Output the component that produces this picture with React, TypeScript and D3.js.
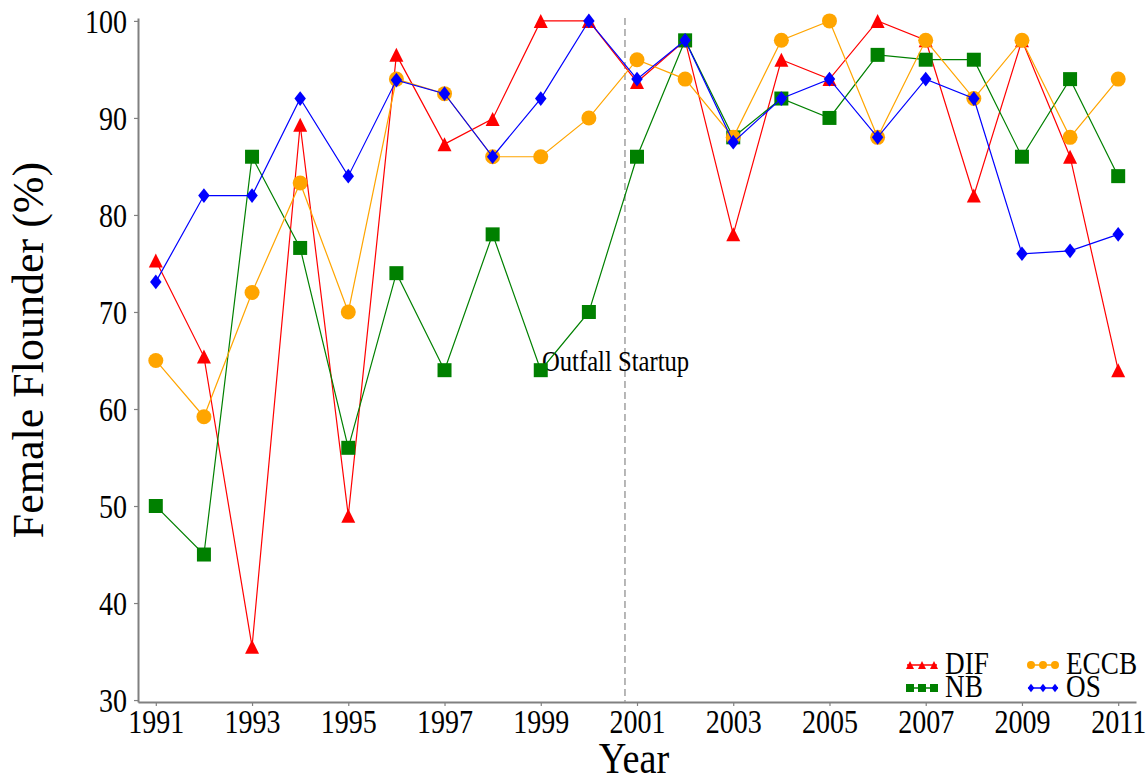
import React, { useEffect, useRef } from 'react';
import * as d3 from 'd3';

const years = d3.range(1991, 2012);
const yearTicks = [1991, 1993, 1995, 1997, 1999, 2001, 2003, 2005, 2007, 2009, 2011];
const pctTicks = [30, 40, 50, 60, 70, 80, 90, 100];

const difValues = [75.3, 65.4, 35.5, 89.3, 49, 96.5, 87.3, 89.9, 100, 100, 93.7, 98, 78, 96, 94, 100, 98, 82, 98, 86, 64];
const nbValues = [50, 45, 86, 76.6, 56, 74, 64, 78, 64, 70, 86, 98, 88, 92, 90, 96.5, 96, 96, 86, 94, 84];
const eccbValues = [65, 59.2, 72, 83.3, 70, 94, 92.5, 86, 86, 90, 96, 94, 88, 98, 100, 88, 98, 92, 98, 88, 94];
const osValues = [73.1, 82, 82, 92, 84, 93.9, 92.5, 86, 92, 100, 94, 98, 87.5, 92, 94, 88, 94, 92, 76, 76.3, 78];

const startupYear = 2000.75;

type Shape = 'triangle' | 'square' | 'circle' | 'diamond';

const series: { name: string; values: number[]; color: string; shape: Shape }[] = [
  { name: 'DIF', values: difValues, color: '#ff0000', shape: 'triangle' },
  { name: 'NB', values: nbValues, color: '#008000', shape: 'square' },
  { name: 'ECCB', values: eccbValues, color: '#ffa500', shape: 'circle' },
  { name: 'OS', values: osValues, color: '#0000ff', shape: 'diamond' },
];

// marker outline centred on (0,0); s = full width
function markerPath(shape: Shape, s: number): string {
  const h = s / 2;
  if (shape === 'triangle') return `M0,${-h}L${h},${h}L${-h},${h}Z`;
  if (shape === 'square') return `M${-h},${-h}H${h}V${h}H${-h}Z`;
  if (shape === 'diamond') {
    const w = h * 0.82;
    const t = h * 1.05;
    return `M0,${-t}L${w},0L0,${t}L${-w},0Z`;
  }
  const p = d3.path();
  p.arc(0, 0, h, 0, Math.PI * 2);
  return p.toString();
}

const W = 1147;
const H = 778;
const FONT = "'Liberation Serif', 'Times New Roman', Tinos, 'Nimbus Roman', 'DejaVu Serif', serif";
const SX = 0.85; // the glyphs in the source are horizontally narrowed

export default function App() {
  const ref = useRef<SVGSVGElement>(null);

  useEffect(() => {
    const svg = d3.select(ref.current);
    svg.selectAll('*').remove();
    svg.style('font-family', FONT);

    const x = d3.scaleLinear().domain([1990.63, 2011.37]).range([138, 1136]);
    const y = d3.scaleLinear().domain([29.8, 100.3]).range([702, 18]);

    // y axis
    const gy = svg.append('g').attr('transform', `translate(${x.range()[0]},0)`)
      .call(d3.axisLeft(y).tickValues(pctTicks).tickSize(4).tickSizeOuter(0).tickFormat(d3.format('d')));
    gy.attr('font-family', null);
    gy.select('.domain').attr('stroke', '#808080').attr('stroke-width', 2);
    gy.selectAll('.tick line').attr('stroke', '#808080').attr('stroke-width', 1.2);
    gy.selectAll('.tick text')
      .attr('x', 0).attr('dy', '0.35em')
      .attr('transform', `translate(-11,0) scale(${SX},1)`)
      .style('font-family', FONT).attr('font-size', 33).attr('fill', '#000');

    // x axis
    const gx = svg.append('g').attr('transform', `translate(0,${y.range()[0]})`)
      .call(d3.axisBottom(x).tickValues(yearTicks).tickSize(4).tickSizeOuter(0).tickFormat(d3.format('d')));
    gx.attr('font-family', null);
    gx.select('.domain').attr('stroke', '#808080').attr('stroke-width', 2);
    gx.selectAll('.tick line').attr('stroke', '#808080').attr('stroke-width', 1.2);
    gx.selectAll('.tick text')
      .attr('y', 0).attr('dy', 0)
      .attr('transform', `translate(0,31) scale(${SX},1)`)
      .style('font-family', FONT).attr('font-size', 33).attr('fill', '#000');

    // startup line
    svg.append('line')
      .attr('x1', x(startupYear)).attr('x2', x(startupYear))
      .attr('y1', y.range()[1]).attr('y2', y.range()[0])
      .attr('stroke', '#a0a0a0').attr('stroke-width', 1.5)
      .attr('stroke-dasharray', '7,4');

    svg.append('text')
      .attr('transform', `translate(542,371) scale(${SX},1)`)
      .style('font-family', FONT).attr('font-size', 29)
      .text('Outfall Startup');

    const line = d3.line<number>()
      .x((_, i) => x(years[i]))
      .y(d => y(d));

    series.forEach(s => {
      svg.append('path')
        .attr('d', line(s.values))
        .attr('fill', 'none')
        .attr('stroke', s.color)
        .attr('stroke-width', 1.2);
      svg.append('g')
        .selectAll('path')
        .data(s.values)
        .enter()
        .append('path')
        .attr('transform', (d, i) => `translate(${x(years[i])},${y(d)})`)
        .attr('d', markerPath(s.shape, s.shape === 'circle' ? 15 : 14))
        .attr('fill', s.color);
    });

    // legend, two columns filled top-down
    const legendPos = [
      { lx: 907, ly: 665 },
      { lx: 907, ly: 688 },
      { lx: 1028, ly: 665 },
      { lx: 1028, ly: 688 },
    ];
    series.forEach((s, k) => {
      const { lx, ly } = legendPos[k];
      const g = svg.append('g').attr('transform', `translate(${lx},${ly})`);
      g.append('line').attr('x1', 0).attr('x2', 30).attr('y1', 0).attr('y2', 0)
        .attr('stroke', s.color).attr('stroke-width', 1.5);
      [3, 15, 27].forEach(mx => {
        g.append('path')
          .attr('transform', `translate(${mx},0)`)
          .attr('d', markerPath(s.shape, 8))
          .attr('fill', s.color);
      });
      g.append('text')
        .attr('transform', `translate(38,9) scale(${SX},1)`)
        .style('font-family', FONT).attr('font-size', 32)
        .text(s.name);
    });

    // axis titles
    svg.append('text')
      .attr('transform', `translate(634,773) scale(${SX},1)`)
      .attr('text-anchor', 'middle')
      .style('font-family', FONT).attr('font-size', 45)
      .text('Year');
    svg.append('text')
      .attr('transform', 'translate(43,350) rotate(-90)')
      .attr('text-anchor', 'middle')
      .style('font-family', FONT).attr('font-size', 44)
      .text('Female Flounder (%)');
  }, []);

  return (
    <svg ref={ref} width={W} height={H}
      style={{ position: 'absolute', left: 0, top: 0, background: '#fff' }} />
  );
}
